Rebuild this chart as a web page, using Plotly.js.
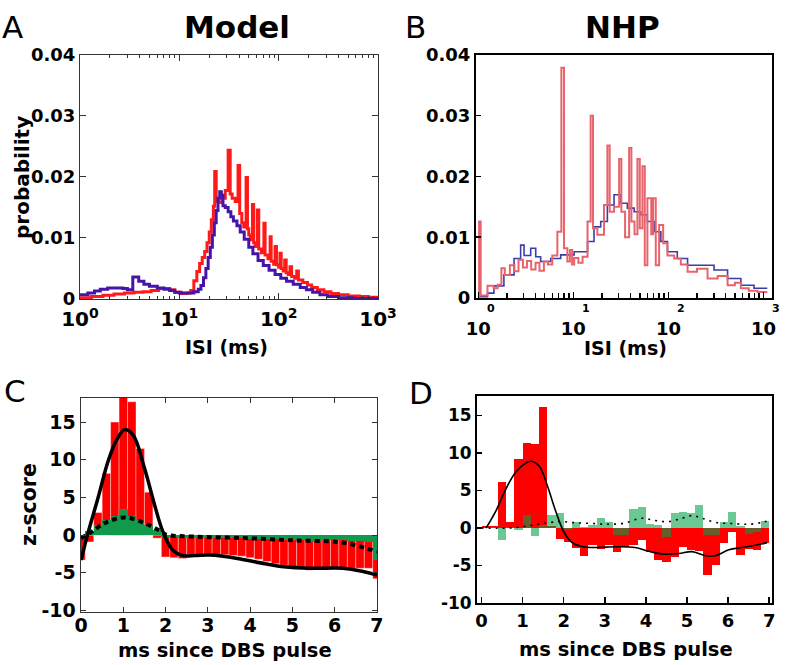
<!DOCTYPE html>
<html><head><meta charset="utf-8">
<script src="https://cdn.plot.ly/plotly-3.0.1.min.js"></script>
<style>html,body{margin:0;padding:0;background:#fff}#chart{width:789px;height:665px}</style>
</head><body><div id="chart"></div>
<script>
// ---------- Panel A : Model ISI histograms ----------
const modelRedISI = [1,1.3,1.7,2.2,2.8,3.5,4.3,5.2,6.2,7.2,8,9,10.5,12,13,14,15,16,17,18,19,20,21,22,22.7,23.5,25,27,29,31,32.5,34,36.5,39,40.5,42.5,44.5,47,48.5,50,52,54.5,56,58,61,63,67,71,73,78,82,84,89,92,95,100,103,106,111,115,119,125,130,135,145,152,158,175,195,215,245,285,335,400,500,650,800,1000];
const modelRedProb = [0.0002,0.0004,0.0006,0.0008,0.0010,0.0011,0.0012,0.0014,0.0017,0.0017,0.0015,0.0011,0.0009,0.0010,0.0014,0.0030,0.0045,0.0058,0.0068,0.0078,0.0092,0.0110,0.0130,0.0152,0.0209,0.0160,0.0158,0.0165,0.0178,0.0244,0.0172,0.0165,0.0160,0.0219,0.0140,0.0125,0.0118,0.0199,0.0115,0.0105,0.0097,0.0155,0.0092,0.0086,0.0146,0.0082,0.0076,0.0124,0.0072,0.0066,0.0102,0.0062,0.0057,0.0086,0.0056,0.0052,0.0075,0.0050,0.0046,0.0064,0.0043,0.0040,0.0053,0.0037,0.0034,0.0046,0.0031,0.0027,0.0023,0.0019,0.0015,0.0012,0.0009,0.0007,0.0005,0.0004,0.0003,0.0003];
const modelBlueISI = [1,1.2,1.4,1.6,1.9,2.3,2.7,3.0,3.4,3.9,4.4,5,6,7,8,9,10,12,14,15.5,16.5,17.5,18.5,19.5,20.5,21.5,22.5,23.5,24.5,25.5,26.5,27.5,29,31,33,35,38,41,45,50,55,62,70,80,92,105,120,140,165,190,220,260,310,400,550,1000];
const modelBlueProb = [0.0007,0.0010,0.0013,0.0016,0.0018,0.0018,0.0017,0.0015,0.0036,0.0029,0.0024,0.0021,0.0018,0.0016,0.0014,0.0011,0.0010,0.0010,0.0012,0.0016,0.0022,0.0035,0.0050,0.0068,0.0085,0.0105,0.0125,0.0145,0.0165,0.0176,0.0170,0.0153,0.0150,0.0143,0.0135,0.0128,0.0120,0.0110,0.0098,0.0085,0.0074,0.0063,0.0055,0.0047,0.0040,0.0034,0.0029,0.0024,0.0019,0.0015,0.0011,0.0007,0.0004,0.0002,0.0001,0.0001];

// ---------- Panel B : NHP ISI histograms ----------
const nhpRedISI = [0.99,1.02,1.06,1.25,1.45,1.6,1.75,1.9,2.15,2.4,2.65,2.95,3.25,3.6,4.0,4.4,4.9,5.4,6.0,6.79,7.48,7.98,8.65,9.2,9.7,10.2,11.3,12.5,14.1,15.2,16.1,17.9,21.0,22.8,24.1,26.8,30.3,32.0,35,38.6,40.8,44,47.2,50.0,53.3,56.4,60.1,66,69,73.6,79.8,88,97.7,115,135,159,200,258,330,419,500,578,700,867,1097];
const nhpRedProb = [0,0.0126,0.0004,0.0020,0.0016,0.0022,0.0049,0.0038,0.0054,0.0044,0.0063,0.0050,0.0061,0.0047,0.0058,0.0045,0.0060,0.0055,0.0070,0.0109,0.0379,0.0082,0.0060,0.0079,0.0055,0.0066,0.0058,0.0068,0.0126,0.0300,0.0115,0.0104,0.0153,0.0251,0.0142,0.0150,0.0229,0.0142,0.0100,0.0247,0.0126,0.0105,0.0229,0.0115,0.0217,0.0054,0.0164,0.0105,0.0164,0.0054,0.0120,0.0090,0.0070,0.0065,0.0055,0.0043,0.0048,0.0032,0.0036,0.0021,0.0025,0.0016,0.0012,0.0010,0.0010];
const nhpBlueISI = [1.0,1.25,1.46,1.86,2.38,2.79,3.03,3.56,4.02,4.53,5.78,7.36,10.2,14.1,16.5,19.4,22.8,26.8,31.6,37,43.6,51.2,60,70.8,83.2,97.7,124,159,219,302,419,578,795,1097];
const nhpBlueProb = [0.0002,0.0008,0.0020,0.0038,0.0065,0.0087,0.0070,0.0082,0.0068,0.0060,0.0065,0.0071,0.0076,0.0093,0.0117,0.0126,0.0153,0.0170,0.0156,0.0148,0.0142,0.0137,0.0126,0.0109,0.0093,0.0076,0.0065,0.0054,0.0054,0.0046,0.0032,0.0021,0.0016,0.0016];

// ---------- Panel C : Model PSTH z-scores ----------
const modelBinMs = [0,0.2,0.4,0.6,0.8,1.0,1.2,1.4,1.6,1.8,2.0,2.2,2.4,2.6,2.8,3.0,3.2,3.4,3.6,3.8,4.0,4.2,4.4,4.6,4.8,5.0,5.2,5.4,5.6,5.8,6.0,6.2,6.4,6.6,6.8,7.0];
const modelRedZ = [-3.3,-0.9,3.0,8.2,15.0,19.0,17.7,11.5,5.7,-0.4,-2.9,-3.0,-3.1,-2.6,-2.6,-2.5,-2.6,-2.6,-2.7,-2.8,-3.0,-3.2,-3.5,-3.8,-4.0,-4.2,-4.3,-4.65,-4.4,-4.4,-4.4,-4.4,-4.4,-4.4,-4.4,-5.8];
const modelGreenZ = [-0.4,0.6,1.3,2.0,2.6,3.5,2.6,2.0,1.3,0.7,-0.3,-0.3,-0.4,-0.4,-0.4,-0.4,-0.4,-0.4,-0.4,-0.4,-0.5,-0.5,-0.5,-0.5,-0.6,-0.6,-0.7,-0.9,-0.8,-0.7,-0.7,-0.7,-0.8,-0.8,-0.9,-3.3];
const modelSolidMs = [0,0.17,0.4,0.64,0.84,1.03,1.23,1.5,1.74,1.94,2.17,2.4,2.7,3.05,3.7,4.35,4.8,5.45,6.2,6.65,7.0];
const modelSolidZ = [-3.3,0.4,4.9,9.8,12.6,14.0,13.3,8.9,4.0,0.4,-2.0,-2.7,-2.7,-2.65,-3.1,-3.8,-4.2,-4.4,-4.4,-4.8,-5.3];
const modelDotMs = [0,0.24,0.56,1.03,1.5,1.82,2.0,2.7,3.9,5.05,6.07,6.47,7.0];
const modelDotZ = [-0.4,0.4,1.6,2.35,1.6,0.7,0.1,-0.2,-0.4,-0.7,-0.9,-1.3,-2.2];

// ---------- Panel D : NHP PSTH z-scores ----------
const nhpBinMs = [0.1,0.3,0.5,0.7,0.9,1.1,1.3,1.5,1.7,1.9,2.1,2.3,2.5,2.7,2.9,3.1,3.3,3.5,3.7,3.9,4.1,4.3,4.5,4.7,4.9,5.1,5.3,5.5,5.7,5.9,6.1,6.3,6.5,6.7,6.9];
const nhpRedZ = [0.3,0.3,6.1,0.8,9.2,11.3,11.2,16.1,0.3,-1.4,-1.8,-2.7,-3.7,-2.2,-2.8,-2.3,-3.2,-2.5,-2.3,-1.6,-3.2,-4.2,-4.5,-3.8,-2.5,-2.9,-3.0,-6.2,-4.9,-2.0,-0.5,-3.6,-2.8,-2.9,-2.0];
const nhpGreenZ = [0.2,0.2,-1.6,0.1,-0.2,1.7,-1.0,0.4,1.7,2.0,-0.3,0.85,0.1,0.4,1.3,0.75,-0.9,-0.9,2.5,2.75,0.6,0.4,-1.15,2.0,2.1,1.95,3.1,-0.9,-0.9,0.75,2.2,0.3,-0.8,-0.5,1.0];
const nhpSolidMs = [0.11,0.36,0.6,0.84,1.09,1.21,1.41,1.61,1.82,2.02,2.22,2.47,2.79,3.28,3.74,4.07,4.39,4.8,5.12,5.45,5.69,6.02,6.34,6.66,6.95];
const nhpSolidZ = [0,2.4,5.3,7.5,8.7,8.9,8.2,5.5,2.0,-0.7,-2.0,-2.5,-2.6,-2.5,-2.6,-3.1,-3.45,-3.4,-3.15,-3.7,-3.7,-2.9,-2.6,-2.3,-1.95];
const nhpDotMs = [0,0.68,1.09,1.49,1.9,2.3,2.71,3.1,3.48,3.9,4.23,4.55,4.88,5.12,5.37,5.69,6.1,6.5,6.83,7.0];
const nhpDotZ = [0,0,0.25,0.6,0.85,0.7,0.6,0.5,0.65,1.3,1.0,0.85,1.3,1.65,1.3,0.75,0.6,0.5,0.75,1.0];

// ---------- tick labels / titles ----------
const logTickVals = [1,10,100,1000];
const modelLogTickText = ['10<sup>0</sup>','10<sup>1</sup>','10<sup>2</sup>','10<sup>3</sup>'];
const nhpLogTickText = ['10','10','10','10'];
const nhpExponents = ['0','1','2','3'];
const minorLogVals = [2,3,4,5,6,7,8,9,20,30,40,50,60,70,80,90,200,300,400,500,600,700,800,900];
const probTickVals = [0,0.01,0.02,0.03,0.04];
const probTickText = ['0','0.01','0.02','0.03','0.04'];
const zTickVals = [-10,-5,0,5,10,15];
const zTickText = ['-10','-5','0','5','10','15'];
const msTickVals = [0,1,2,3,4,5,6,7];

const FONT = 'DejaVu Sans, Verdana, sans-serif';
const bold = (s) => ({family: FONT, size: s, color: '#000', weight: 'bold'});
const plain = (s) => ({family: FONT, size: s, color: '#000'});

const traces = [
  {x: modelRedISI, y: modelRedProb, xaxis:'x', yaxis:'y', mode:'lines', line:{shape:'hv', color:'#ff1a1a', width:3}, showlegend:false},
  {x: modelBlueISI, y: modelBlueProb, xaxis:'x', yaxis:'y', mode:'lines', line:{shape:'hv', color:'#4614a8', width:3}, showlegend:false},
  {x: nhpBlueISI, y: nhpBlueProb, xaxis:'x2', yaxis:'y2', mode:'lines', line:{shape:'hv', color:'#3a3ea8', width:1.6}, showlegend:false},
  {x: nhpRedISI, y: nhpRedProb, xaxis:'x2', yaxis:'y2', mode:'lines', line:{shape:'hv', color:'#e8646c', width:2}, showlegend:false},
  {type:'bar', x: modelBinMs, y: modelRedZ, width:0.2, xaxis:'x3', yaxis:'y3', marker:{color:'#ff0000', line:{color:'rgba(255,255,255,0.7)', width:0.5}}, showlegend:false},
  {type:'bar', x: modelBinMs, y: modelGreenZ, width:0.2, xaxis:'x3', yaxis:'y3', marker:{color:'#119a4c', line:{width:0}}, showlegend:false},
  {x: modelSolidMs, y: modelSolidZ, xaxis:'x3', yaxis:'y3', mode:'lines', line:{shape:'spline', smoothing:1, color:'#000', width:3.5}, showlegend:false},
  {x: modelDotMs, y: modelDotZ, xaxis:'x3', yaxis:'y3', mode:'lines', line:{shape:'spline', smoothing:1, color:'#000', width:4, dash:'5px,4px'}, showlegend:false},
  {type:'bar', x: nhpBinMs, y: nhpRedZ, width:0.2, xaxis:'x4', yaxis:'y4', marker:{color:'#ff0000', line:{width:0}}, showlegend:false},
  {type:'bar', x: nhpBinMs, y: nhpGreenZ, width:0.2, xaxis:'x4', yaxis:'y4', marker:{color:'rgba(0,160,70,0.58)', line:{width:0}}, showlegend:false},
  {x: nhpSolidMs, y: nhpSolidZ, xaxis:'x4', yaxis:'y4', mode:'lines', line:{shape:'spline', smoothing:1, color:'#000', width:1.6}, showlegend:false},
  {x: nhpDotMs, y: nhpDotZ, xaxis:'x4', yaxis:'y4', mode:'lines', line:{shape:'spline', smoothing:1, color:'#000', width:1.6, dash:'2px,5px'}, showlegend:false}
];

const annots = [
  {text:'Model', x:0.3004, y:0.9594, font:bold(31)},
  {text:'NHP', x:0.7896, y:0.9594, font:bold(31)},
  {text:'A', x:0.0, y:0.960, xanchor:'left', font:plain(31)},
  {text:'B', x:0.5108, y:0.960, xanchor:'left', font:plain(31)},
  {text:'C', x:0.0025, y:0.412, xanchor:'left', font:plain(31)},
  {text:'D', x:0.5158, y:0.409, xanchor:'left', font:plain(31)},
  {text:'probability', x:0.0279, y:0.7323, textangle:-90, font:bold(20)},
  {text:'ISI (ms)', x:0.2877, y:0.4782, font:bold(19)},
  {text:'ISI (ms)', x:0.7934, y:0.4767, font:bold(19)},
  {text:'z-score', x:0.0368, y:0.2406, textangle:-90, font:bold(20.5)},
  {text:'ms since DBS pulse', x:0.2852, y:0.0211, font:bold(19.5)},
  {text:'ms since DBS pulse', x:0.7934, y:0.0226, font:bold(19.5)}
].map(a => Object.assign({xref:'paper', yref:'paper', showarrow:false, xanchor:'center', yanchor:'middle'}, a));

nhpExponents.forEach((e, i) => {
  annots.push({text:e, xref:'x2', yref:'paper', x: Math.log10(logTickVals[i]), xshift:13, y:0.5368,
    showarrow:false, xanchor:'center', yanchor:'middle', font:bold(11)});
});

const layout = {
  width:789, height:665, margin:{l:0,r:0,t:0,b:0},
  paper_bgcolor:'#fff', plot_bgcolor:'#fff',
  barmode:'overlay', bargap:0, showlegend:false,
  font:{family:FONT, color:'#000'},
  annotations: annots,
  xaxis:{domain:[0.1014,0.4791], anchor:'y', type:'log', range:[0,3], tickvals:logTickVals, ticktext:modelLogTickText,
    ticks:'inside', ticklen:6, tickcolor:'#333', showline:true, linecolor:'#333', linewidth:1, mirror:'ticks',
    minor:{tickvals:minorLogVals, ticks:'inside', ticklen:3, tickcolor:'#333'}, ticklabelstandoff:2,
    showgrid:false, zeroline:false, tickfont:bold(20)},
  yaxis:{domain:[0.5504,0.9173], anchor:'x', range:[0,0.04], tickvals:probTickVals, ticktext:probTickText,
    ticks:'inside', ticklen:6, tickcolor:'#333', showline:true, linecolor:'#333', linewidth:1, mirror:'ticks',
    showgrid:false, zeroline:false, tickfont:bold(18)},
  xaxis2:{domain:[0.6033,0.9785], anchor:'y2', type:'log', range:[-0.024,3.09], tickvals:logTickVals, ticktext:nhpLogTickText,
    ticks:'inside', ticklen:6, tickwidth:1.5, tickcolor:'#000', showline:true, linecolor:'#000', linewidth:2, mirror:true,
    minor:{tickvals:minorLogVals, ticks:'inside', ticklen:5, tickwidth:1.5, tickcolor:'#000'}, ticklabelstandoff:13,
    showgrid:false, zeroline:false, tickfont:bold(18)},
  yaxis2:{domain:[0.5519,0.9173], anchor:'x2', range:[0,0.04], tickvals:probTickVals, ticktext:probTickText,
    ticks:'inside', ticklen:5, tickwidth:1.5, tickcolor:'#000', showline:true, linecolor:'#000', linewidth:2, mirror:true,
    showgrid:false, zeroline:false, tickfont:bold(18)},
  xaxis3:{domain:[0.1027,0.4778], anchor:'y3', range:[0,7], tickvals:msTickVals,
    ticks:'inside', ticklen:5, tickcolor:'#333', showline:true, linecolor:'#333', linewidth:1.5, mirror:'ticks',
    ticklabelstandoff:-4, showgrid:false, zeroline:false, tickfont:bold(19)},
  yaxis3:{domain:[0.0797,0.4015], anchor:'x3', range:[-10.2,18.2], tickvals:zTickVals, ticktext:zTickText,
    ticks:'inside', ticklen:5, tickcolor:'#333', showline:true, linecolor:'#333', linewidth:1.5, mirror:'ticks',
    showgrid:false, zeroline:false, tickfont:bold(19)},
  xaxis4:{domain:[0.6046,0.9785], anchor:'y4', range:[-0.11,7.07], tickvals:msTickVals,
    ticks:'inside', ticklen:6, tickwidth:1.5, tickcolor:'#000', showline:true, linecolor:'#000', linewidth:2, mirror:true,
    showgrid:false, zeroline:false, tickfont:bold(18)},
  yaxis4:{domain:[0.0932,0.4045], anchor:'x4', range:[-10,17.6], tickvals:zTickVals, ticktext:zTickText,
    ticks:'inside', ticklen:5, tickwidth:1.5, tickcolor:'#000', showline:true, linecolor:'#000', linewidth:2, mirror:true,
    showgrid:false, zeroline:false, tickfont:bold(17)}
};

Plotly.newPlot('chart', traces, layout, {staticPlot:true, displayModeBar:false});
</script>
</body></html>
